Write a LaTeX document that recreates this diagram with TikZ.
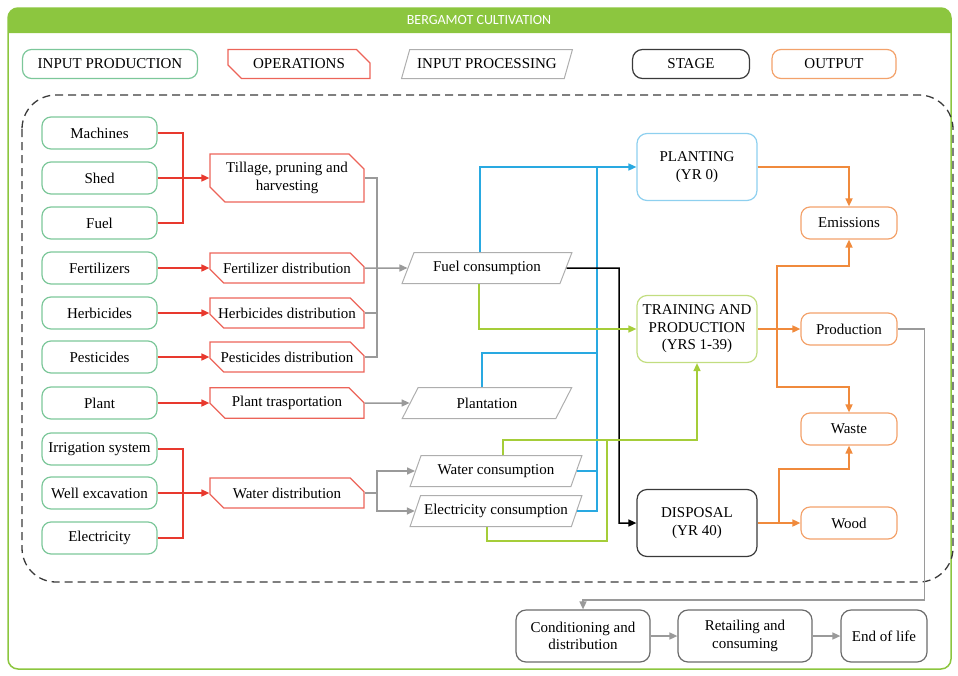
\documentclass[tikz,border=0pt]{standalone}
\usepackage{fontspec}
\setmainfont{Liberation Serif}
\newfontfamily\bannerfont{Carlito}
\usetikzlibrary{arrows.meta,calc,shapes.geometric,shapes.misc}
\definecolor{bergframe}{HTML}{8CC63F}
\definecolor{bergmint}{HTML}{7CC79A}
\definecolor{bergred}{HTML}{E8392E}
\definecolor{bergredbox}{HTML}{EC6459}
\definecolor{berggray}{HTML}{9A9A9A}
\definecolor{bergdark}{HTML}{3A3A3A}
\definecolor{bergorange}{HTML}{F08A3C}
\definecolor{bergoutbox}{HTML}{F3A26B}
\definecolor{bergblue}{HTML}{29A9E1}
\definecolor{bergsky}{HTML}{8ED0EF}
\definecolor{berglime}{HTML}{A5CD39}
\definecolor{berglimebox}{HTML}{C2DD80}

\begin{document}
\begin{tikzpicture}[x=1pt,y=-1pt,
  font=\fontsize{15}{17.5}\selectfont,
  inprod/.style={draw=bergmint,line width=1.2pt,rounded corners=9pt,minimum width=115pt,minimum height=32pt,align=center,inner sep=1pt},
  oper/.style={chamfered rectangle,chamfered rectangle corners={north east,south west},chamfered rectangle sep=7.5pt,draw=bergredbox,line width=1.2pt,minimum width=154pt,minimum height=30pt,align=center,inner sep=1pt},
  inproc/.style={trapezium,trapezium left angle=60,trapezium right angle=120,trapezium stretches=true,draw=berggray!80,line width=1pt,minimum width=170pt,minimum height=31pt,inner sep=1pt},
  stage/.style={rounded corners=10pt,line width=1.2pt,minimum width=120pt,minimum height=67pt,align=center,inner sep=1pt},
  outp/.style={draw=bergoutbox,line width=1.2pt,rounded corners=9pt,minimum width=96pt,minimum height=32pt,inner sep=1pt},
  final/.style={draw=bergdark!75,line width=1.2pt,rounded corners=10pt,minimum height=52pt,align=center,inner sep=1pt},
  tip/.style={-{Triangle[length=8pt,width=7pt]}},
  redln/.style={draw=bergred,line width=1.6pt},
  grayln/.style={draw=berggray,line width=1.5pt},
  blueln/.style={draw=bergblue,line width=1.5pt},
  grnln/.style={draw=berglime,line width=1.5pt},
  blkln/.style={draw=black,line width=1.5pt},
  orln/.style={draw=bergorange,line width=1.6pt}
]
\useasboundingbox (0,0) rectangle (958,675);

% frame and title band
\draw[bergframe,line width=1.5pt,rounded corners=10pt] (8,8) rectangle (951,669);
\fill[bergframe] (8,33) [rounded corners=10pt] -- (8,8) -- (951,8) [sharp corners] -- (951,33) -- cycle;
\node[text=white,font=\bannerfont\fontsize{14}{16}\selectfont] (title) at (479,20.5) {BERGAMOT CULTIVATION};

% legend
\node[inprod,minimum width=175pt,minimum height=29pt] (lgin) at (110,64) {INPUT PRODUCTION};
\node[oper,minimum width=142pt,minimum height=29pt] (lgop) at (299,64) {OPERATIONS};
\node[inproc,minimum width=171pt,minimum height=29pt,inner xsep=-4pt] (lgpr) at (487,64) {INPUT PROCESSING};
\node[stage,draw=bergdark,minimum width=117pt,minimum height=29pt] (lgst) at (691,64) {STAGE};
\node[outp,minimum width=124pt,minimum height=29pt] (lgou) at (834,64) {OUTPUT};

\draw[bergdark,line width=1.3pt,dash pattern=on 8pt off 5pt,rounded corners=34pt] (22,95) rectangle (953,582);

% input production
\node[inprod] (mach) at (99.5,133) {Machines};
\node[inprod] (shed) at (99.5,178) {Shed};
\node[inprod] (fuel) at (99.5,223) {Fuel};
\node[inprod] (fert) at (99.5,268) {Fertilizers};
\node[inprod] (herb) at (99.5,313) {Herbicides};
\node[inprod] (pest) at (99.5,357) {Pesticides};
\node[inprod] (plnt) at (99.5,403) {Plant};
\node[inprod] (irri) at (99.5,449) {Irrigation system};
\node[inprod] (well) at (99.5,493) {Well excavation};
\node[inprod] (elct) at (99.5,538) {Electricity};

% operations
\node[oper,minimum height=45pt] (till) at (287,178) {Tillage, pruning and\\harvesting};
\node[oper] (fertd) at (287,268) {Fertilizer distribution};
\node[oper] (herbd) at (287,313) {Herbicides distribution};
\node[oper] (pestd) at (287,357) {Pesticides distribution};
\node[oper] (ptrans) at (287,403) {Plant trasportation};
\node[oper] (wdist) at (287,493) {Water distribution};

% input processing
\node[inproc] (fuelc) at (487,268) {Fuel consumption};
\node[inproc] (plantn) at (487,403) {Plantation};
\node[inproc,minimum width=172pt] (watc) at (496,471) {Water consumption};
\node[inproc,minimum width=172pt,inner xsep=-7pt] (elecc) at (496,511) {Electricity consumption};

% stages
\node[stage,draw=bergsky] (plant0) at (697,167) {PLANTING\\(YR 0)};
\node[stage,draw=berglimebox] (train) at (697,329) {TRAINING AND\\PRODUCTION\\(YRS 1-39)};
\node[stage,draw=bergdark] (disp) at (697,523) {DISPOSAL\\(YR 40)};

% outputs
\node[outp] (emis) at (849,223) {Emissions};
\node[outp] (prod) at (849,329) {Production};
\node[outp] (waste) at (849,429) {Waste};
\node[outp] (wood) at (849,523) {Wood};

% after the farm gate
\node[final,minimum width=134pt] (cond) at (583,636) {Conditioning and\\distribution};
\node[final,minimum width=134pt] (retail) at (745,636) {Retailing and\\consuming};
\node[final,minimum width=86pt] (eol) at (884,636) {End of life};

% red links
\coordinate (rj1) at (183,178);
\coordinate (rj2) at (183,493);
\draw[redln] (mach.east) -| (rj1);
\draw[redln] (fuel.east) -| (rj1);
\draw[redln,tip] (shed.east) -- (till.west);
\draw[redln,tip] (fert.east) -- (fertd.west);
\draw[redln,tip] (herb.east) -- (herbd.west);
\draw[redln,tip] (pest.east) -- (pestd.west);
\draw[redln,tip] (plnt.east) -- (ptrans.west);
\draw[redln] (irri.east) -| (rj2);
\draw[redln] (elct.east) -| (rj2);
\draw[redln,tip] (well.east) -- (wdist.west);

% gray links
\coordinate (gj1) at (377,268);
\coordinate (gj2) at (377,493);
\draw[grayln] (till.east) -| (gj1);
\draw[grayln] (herbd.east) -| (gj1);
\draw[grayln] (pestd.east) -| (gj1);
\draw[grayln,tip] (fertd.east) -- (fuelc.west);
\draw[grayln,tip] (ptrans.east) -- (plantn.west);
\draw[grayln] (wdist.east) -- (gj2);
\draw[grayln,tip] (gj2) |- (watc.west);
\draw[grayln,tip] (gj2) |- (elecc.west);

% blue links
\coordinate (bt) at (597,167);
\coordinate (bm) at (597,353);
\draw[blueln,tip] ([xshift=-7pt]fuelc.north) |- (plant0.west);
\draw[blueln] ([xshift=-5pt]plantn.north) |- (bm);
\draw[blueln] (watc.east) -| (bt);
\draw[blueln] (elecc.east) -| (bt);

% black link
\coordinate (kx) at (619,268);
\draw[blkln,tip] (fuelc.east) -- (kx) |- (disp.west);

% green links
\coordinate (gk) at (697,440);
\coordinate (gl) at (607,440);
\draw[grnln,tip] ([xshift=-8pt]fuelc.south) |- (train.west);
\draw[grnln,tip] ([xshift=7pt]watc.north) |- (gk) -- (train.south);
\draw[grnln] ([xshift=-9pt]elecc.south) -- ++(0,14) -| (gl);

% orange links
\coordinate (oa) at (777,329);
\coordinate (ob) at (779,523);
\draw[orln,tip] (plant0.east) -| (emis.north);
\draw[orln,tip] (train.east) -- (prod.west);
\draw[orln,tip] (oa) -- ++(0,-63) -| (emis.south);
\draw[orln,tip] (oa) -- ++(0,58) -| (waste.north);
\draw[orln,tip] (disp.east) -- (wood.west);
\draw[orln,tip] (ob) -- ++(0,-54) -| (waste.south);

% to the market
\draw[grayln,tip] (prod.east) -- ++(27,0) -- ++(0,271) -| (cond.north);
\draw[grayln,tip] (cond) -- (retail);
\draw[grayln,tip] (retail) -- (eol);
\end{tikzpicture}
\end{document}
